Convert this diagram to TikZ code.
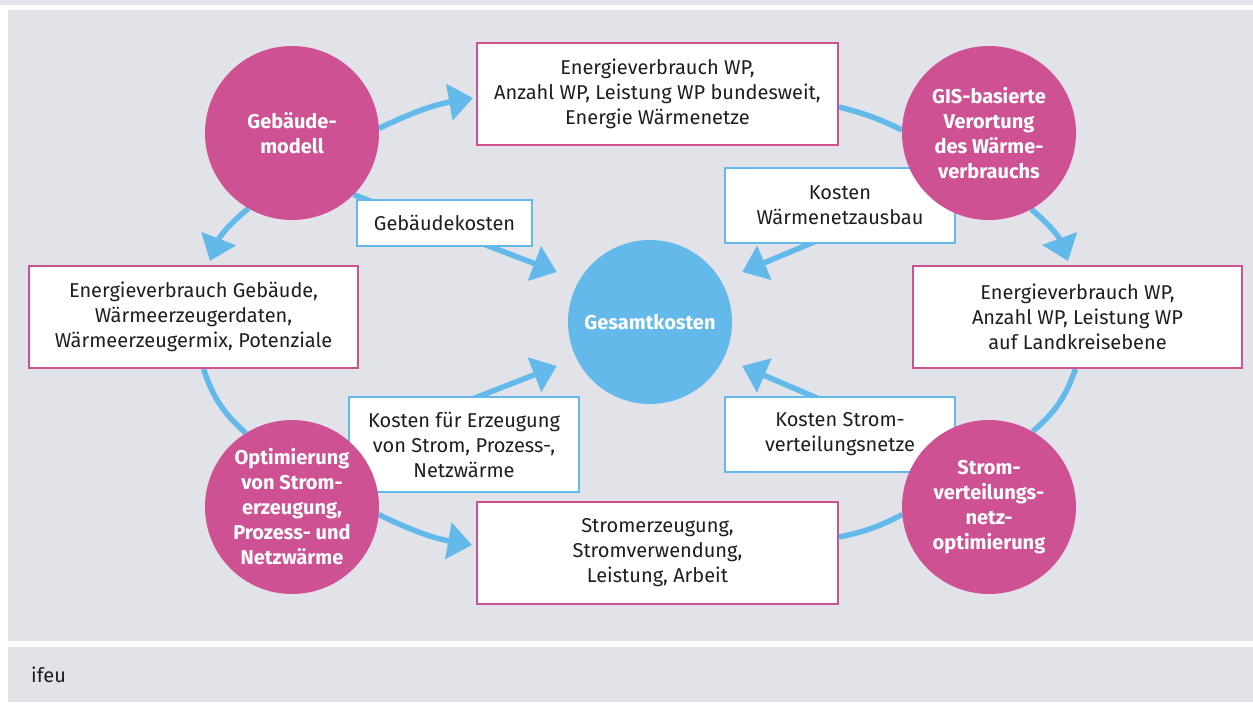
\documentclass[tikz,border=0pt]{standalone}
\usepackage{fontspec}
\setmainfont{Fira Sans}
\usetikzlibrary{arrows.meta}

\definecolor{ifeumag}{HTML}{CD5193}
\definecolor{ifeublue}{HTML}{63B9E9}
\definecolor{ifeugray}{HTML}{E2E3E8}
\definecolor{ifeutext}{HTML}{1E1E1E}

\newcommand\ifeusize{\fontsize{20}{25}\selectfont}

\pgfdeclarelayer{panel}
\pgfdeclarelayer{links}
\pgfsetlayers{panel,links,main}

\tikzset{
  datbox/.style={draw=ifeumag, line width=2pt, fill=white, text=ifeutext, font=\ifeusize,
    align=center, inner sep=0pt, minimum height=102pt},
  costbox/.style={draw=ifeublue, line width=2pt, fill=white, text=ifeutext, font=\ifeusize,
    align=center, inner sep=0pt, minimum width=230pt},
  modcirc/.style={circle, fill=ifeumag, text=white, font=\ifeusize\bfseries,
    align=center, minimum size=174pt, inner sep=0pt},
  flow/.style={draw=ifeublue, line width=5.5pt},
  flowto/.style={flow, -{Triangle[length=24pt,width=36pt]}},
}

\begin{document}
\begin{tikzpicture}[x=1pt, y=-1pt]
\useasboundingbox (0,0) rectangle (1253,702);
\begin{pgfonlayer}{panel}
  \fill[white] (0,0) rectangle (1253,702);
  \fill[ifeugray] (0,0) rectangle (1253,5);
  \fill[ifeugray] (8,10) rectangle (1253,641);
  \fill[ifeugray] (8,647) rectangle (1253,702);
\end{pgfonlayer}

% Kosten
\node[costbox, minimum width=175pt, minimum height=46pt] (kgeb) at (444.5,223) {Gebäudekosten};
\node[costbox, minimum height=75pt] (kwn) at (840,205.5) {Kosten\\Wärmenetzausbau};
\node[costbox, minimum height=95pt] (kerz) at (464,444.5) {Kosten für Erzeugung\\von Strom, Prozess-,\\Netzwärme};
\node[costbox, minimum height=75pt] (kstr) at (840,434.5) {Kosten Strom-\\verteilungsnetze};

% Modelle
\node[modcirc] (geb) at (292,133) {Gebäude-\\modell};
\node[modcirc] (gis) at (989,133) {GIS-basierte\\Verortung\\des Wärme-\\verbrauchs};
\node[modcirc] (opt) at (292,507) {Optimierung\\von Strom-\\erzeugung,\\Prozess- und\\Netzwärme};
\node[modcirc] (strom) at (989,507) {Strom-\\verteilungs-\\netz-\\optimierung};
\node[modcirc, fill=ifeublue, minimum size=164pt] (ges) at (650,322) {Gesamtkosten};

% Daten
\node[datbox, minimum width=361pt] (wpbund) at (657.5,94) {Energieverbrauch WP,\\Anzahl WP, Leistung WP bundesweit,\\Energie Wärmenetze};
\node[datbox, minimum width=329pt] (wgeb) at (193.5,317) {Energieverbrauch Gebäude,\\Wärmeerzeugerdaten,\\Wärmeerzeugermix, Potenziale};
\node[datbox, minimum width=329pt] (wpland) at (1077.5,317) {Energieverbrauch WP,\\Anzahl WP, Leistung WP\\auf Landkreisebene};
\node[datbox, minimum width=361pt] (strerz) at (657.5,553) {Stromerzeugung,\\Stromverwendung,\\Leistung, Arbeit};

\node[anchor=west, text=ifeutext, font=\ifeusize, inner sep=0pt] (quelle) at (31,675) {ifeu};

\begin{pgfonlayer}{links}
  % Kreislauf
  \draw[flowto] (geb.3) to[bend left=8] ([xshift=-3pt,yshift=-4pt]wpbund.west);
  \draw[flow] ([yshift=-13pt]wpbund.east) to[bend left=6] (gis.178);
  \draw[flowto] (gis.-61) to[bend left=15] ([xshift=-9.5pt,yshift=4pt]wpland.north);
  \draw[flow] ([xshift=-2pt]wpland.south) to[bend left=15] (strom.60);
  \draw[flow] (strom.185) to[bend left=8] ([yshift=16pt]strerz.east);
  \draw[flowto] (geb.240) to[bend right=15] ([xshift=16.5pt,yshift=4pt]wgeb.north);
  \draw[flow] ([xshift=10pt]wgeb.south) to[bend right=15] (opt.122);
  \draw[flowto] (opt.-5) to[bend right=8] ([xshift=-4pt,yshift=8pt]strerz.west);
  % Kosten
  \draw[flowto] (geb.-45) -- ([xshift=-11pt,yshift=50pt]ges.west);
  \draw[flowto] (gis.-135) -- ([xshift=10pt,yshift=50pt]ges.east);
  \draw[flowto] (opt.45) -- ([xshift=-11pt,yshift=-44pt]ges.west);
  \draw[flowto] (strom.135) -- ([xshift=10pt,yshift=-44pt]ges.east);
\end{pgfonlayer}
\end{tikzpicture}
\end{document}
